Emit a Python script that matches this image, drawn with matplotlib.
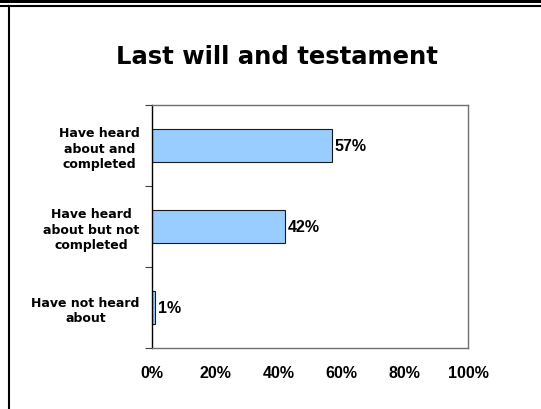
import matplotlib.pyplot as plt
import matplotlib.ticker as mticker
from matplotlib.lines import Line2D
from matplotlib.patches import Rectangle

categories = ["Have heard\nabout and\ncompleted",
              "Have heard\nabout but not\ncompleted",
              "Have not heard\nabout"]
values = [57, 42, 1]
xticks = [0, 20, 40, 60, 80, 100]

fig = plt.figure(figsize=(5.41, 4.10), dpi=100)
ax = fig.add_axes([152 / 541, 1 - 349 / 410, 316 / 541, 243 / 410])

pos = list(range(len(categories)))
ax.barh(pos, values, height=0.4, color="#99CCFF", edgecolor="#1a1a1a", linewidth=0.8)
for p, v in zip(pos, values):
    ax.text(v + 0.9, p, f"{v}%", va="center", ha="left", fontsize=11.5,
            fontweight="bold", family="Liberation Sans")

ax.set_xlim(0, 100)
ax.set_ylim(len(categories) - 0.5, -0.5)

# boundary ticks on the category axis, labels sit on the centres
ax.set_yticks([i - 0.5 for i in range(len(categories) + 1)])
ax.yaxis.set_major_formatter(mticker.NullFormatter())
ax.set_yticks(pos, minor=True)
labels = ax.set_yticklabels(categories, minor=True, fontsize=9, fontweight="bold",
                            family="DejaVu Sans", linespacing=1.25)
for lab in labels:
    lab.set_multialignment("center")
ax.tick_params(axis="y", which="major", length=5, width=0.8, color="#404040", direction="out")
ax.tick_params(axis="y", which="minor", length=0, pad=9)

ax.set_xticks(xticks)
ax.set_xticklabels([f"{t}%" for t in xticks], fontsize=11.5, fontweight="bold",
                   family="Liberation Sans")
ax.tick_params(axis="x", length=0, pad=12.5)

ax.spines["left"].set_color("black")
for s in ["top", "right", "bottom"]:
    ax.spines[s].set_color("#707070")
for s in ax.spines.values():
    s.set_linewidth(1.0)

fig.text(277 / 541, 1 - 57 / 410, "Last will and testament", ha="center", va="center",
         fontsize=17.5, fontweight="bold", family="DejaVu Sans")

# slide frame: heavy band on top, thin rule below it, left border
fig.add_artist(Rectangle((0, 1 - 4 / 410), 1, 4 / 410, transform=fig.transFigure,
                         color="black", lw=0))
fig.add_artist(Line2D([0, 1], [1 - 7 / 410, 1 - 7 / 410], transform=fig.transFigure,
                      color="black", lw=1.5))
fig.add_artist(Line2D([9 / 541, 9 / 541], [0, 1 - 7 / 410], transform=fig.transFigure,
                      color="black", lw=1.5))

fig.savefig("out.png", dpi=100)
